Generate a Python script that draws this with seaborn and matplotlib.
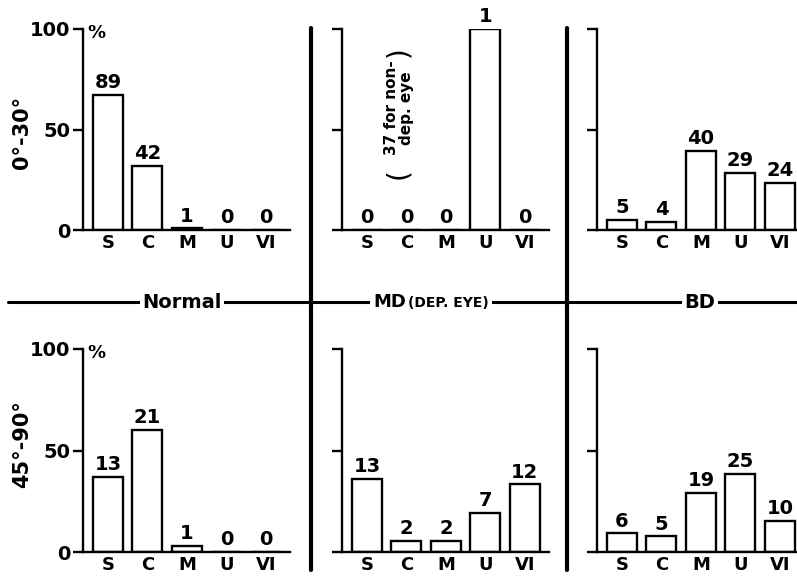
import matplotlib
matplotlib.use("Agg")
import matplotlib.pyplot as plt
from matplotlib.lines import Line2D
import seaborn as sns
import pandas as pd

# ---------------- data ----------------
categories = ["S", "C", "M", "U", "VI"]

normal_top_counts = [89, 42, 1, 0, 0]
normal_top_pct = [67.4, 31.8, 0.8, 0.0, 0.0]
md_top_counts = [0, 0, 0, 1, 0]
md_top_pct = [0.0, 0.0, 0.0, 100.0, 0.0]
bd_top_counts = [5, 4, 40, 29, 24]
bd_top_pct = [4.9, 3.9, 39.2, 28.4, 23.5]

normal_bot_counts = [13, 21, 1, 0, 0]
normal_bot_pct = [37.1, 60.0, 2.9, 0.0, 0.0]
md_bot_counts = [13, 2, 2, 7, 12]
md_bot_pct = [36.1, 5.6, 5.6, 19.4, 33.3]
bd_bot_counts = [6, 5, 19, 25, 10]
bd_bot_pct = [9.2, 7.7, 29.2, 38.5, 15.4]

row_labels = ["0°-30°", "45°-90°"]
y_ticks = [0, 50, 100]
y_tick_labels = ["0", "50", "100"]

# ---------------- layout ----------------
W, H = 797, 576
sns.set_theme(style="white")
plt.rcParams["font.family"] = ["DejaVu Sans"]
plt.rcParams["text.color"] = "black"
plt.rcParams["axes.labelcolor"] = "black"
plt.rcParams["xtick.color"] = "black"
plt.rcParams["ytick.color"] = "black"
fig = plt.figure(figsize=(W / 100, H / 100), dpi=100)

unit = 39.5
xlo, xhi = -0.63, 4.62
col_x = [83, 342, 597]
rows_y = [(230, 29), (552, 349)]  # (pixel of 0, pixel of 100)

panels = [
    [(normal_top_counts, normal_top_pct), (md_top_counts, md_top_pct), (bd_top_counts, bd_top_pct)],
    [(normal_bot_counts, normal_bot_pct), (md_bot_counts, md_bot_pct), (bd_bot_counts, bd_bot_pct)],
]

for r, (y0, y100) in enumerate(rows_y):
    for c, x0 in enumerate(col_x):
        counts, pct = panels[r][c]
        w = (xhi - xlo) * unit
        ax = fig.add_axes([x0 / W, (H - y0) / H, w / W, (y0 - y100) / H])
        df = pd.DataFrame({"cat": categories, "pct": pct})
        sns.barplot(data=df, x="cat", y="pct", order=categories, color="white",
                    edgecolor="black", linewidth=1.7, width=0.76, saturation=1,
                    errorbar=None, ax=ax)
        ax.set_xlim(xlo, xhi)
        ax.set_ylim(0, 100)
        ax.set_facecolor("none")
        for s in ["top", "right"]:
            ax.spines[s].set_visible(False)
        for s in ["left", "bottom"]:
            ax.spines[s].set_linewidth(1.7)
            ax.spines[s].set_color("black")
        ax.set_xlabel("")
        ax.set_ylabel("")
        ax.set_yticks(y_ticks)
        if c == 0:
            ax.set_yticklabels(y_tick_labels, fontsize=14, fontweight="bold",
                               color="black")
        else:
            ax.set_yticklabels([])
        ax.tick_params(axis="y", direction="out", length=7, width=1.7,
                       color="black", left=True, pad=2)
        ax.tick_params(axis="x", length=0, pad=3)
        ax.set_xticks(range(len(categories)))
        ax.set_xticklabels(categories, fontsize=13, fontweight="bold", color="black")
        for i, (n, p) in enumerate(zip(counts, pct)):
            ax.annotate(str(n), (i, p), xytext=(0, 2), textcoords="offset points",
                        ha="center", va="bottom", fontsize=14, fontweight="bold",
                        color="black", annotation_clip=False)
        if c == 0:
            fig.text(96 / W, 1 - (y100 + 4) / H, "%", fontsize=13, fontweight="bold",
                     ha="center", va="center", color="black")

# row labels
fig.text(22 / W, 1 - 132 / H, row_labels[0], rotation=90, ha="center", va="center",
         fontsize=15, fontweight="bold", color="black")
fig.text(22 / W, 1 - 444 / H, row_labels[1], rotation=90, ha="center", va="center",
         fontsize=15, fontweight="bold", color="black")

# separators
fig.add_artist(Line2D([8 / W, 1.0], [1 - 302 / H, 1 - 302 / H], color="black",
                      lw=2.2, transform=fig.transFigure))
for xs in [311, 567]:
    fig.add_artist(Line2D([xs / W, xs / W], [1 - 28 / H, 1 - 570 / H], color="black",
                          lw=3.0, transform=fig.transFigure))

bb = dict(facecolor="white", edgecolor="none", pad=2)
fig.text(182 / W, 1 - 302 / H, "Normal", ha="center", va="center", fontsize=14,
         fontweight="bold", bbox=bb, color="black")
fig.text(406 / W, 1 - 302 / H, "MD", ha="right", va="center", fontsize=13,
         fontweight="bold", bbox=bb, color="black")
fig.text(408 / W, 1 - 303 / H, "(DEP. EYE)", ha="left", va="center", fontsize=10,
         fontweight="bold", bbox=bb, color="black")
fig.text(700 / W, 1 - 302 / H, "BD", ha="center", va="center", fontsize=14,
         fontweight="bold", bbox=bb, color="black")

# parenthetical note in MD top panel
fig.text(399 / W, 1 - 108 / H, "37 for non-\ndep. eye", rotation=90, ha="center",
         va="center", fontsize=11, fontweight="bold", linespacing=0.95,
         multialignment="center", color="black")
fig.text(398 / W, 1 - 174 / H, "(", rotation=90, ha="center", va="center",
         fontsize=20, color="black")
fig.text(398 / W, 1 - 52 / H, ")", rotation=90, ha="center", va="center",
         fontsize=20, color="black")

fig.savefig("out.png", dpi=100)
